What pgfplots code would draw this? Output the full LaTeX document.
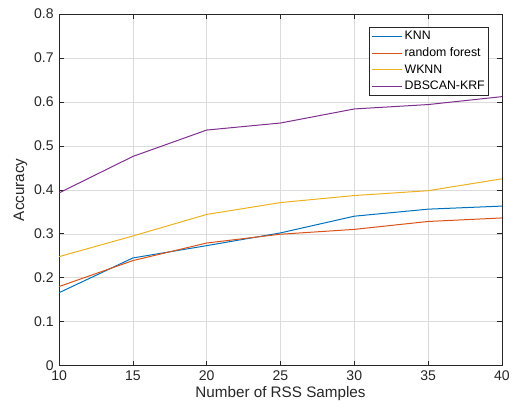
\documentclass[border=0pt]{standalone}
\usepackage{pgfplots}
\pgfplotsset{compat=1.18}
\usepackage{fontspec}
\setmainfont{Liberation Sans}
\definecolor{mA}{rgb}{0,0.447,0.741}
\definecolor{mB}{rgb}{0.85,0.325,0.098}
\definecolor{mC}{rgb}{0.929,0.694,0.125}
\definecolor{mD}{rgb}{0.494,0.184,0.556}
\definecolor{axc}{rgb}{0.15,0.15,0.15}
\begin{document}
\begin{tikzpicture}
\begin{axis}[
  scale only axis,
  width=442bp, height=351bp,
  xmin=10, xmax=40, ymin=0, ymax=0.8,
  xtick={10,15,...,40},
  ytick={0,0.1,...,0.8},
  /pgf/number format/assume math mode=true,
  yticklabel style={/pgf/number format/fixed, xshift=-2bp},
  xticklabel style={yshift=-2bp},
  tick label style={font=\fontsize{14bp}{16bp}\selectfont, text=axc},
  label style={font=\fontsize{15.2bp}{18bp}\selectfont, text=axc},
  xlabel={Number of RSS Samples},
  ylabel={Accuracy},
  xlabel style={yshift=1bp},
  grid=major,
  major grid style={color=black!14, line width=0.5bp},
  axis line style={axc, line width=0.6bp},
  tick style={axc, line width=0.6bp},
  tick align=inside,
  major tick length=5bp,
  legend style={at={(0.971,0.963)}, anchor=north east,
    font=\fontsize{12.3bp}{14.5bp}\selectfont, draw=axc, line width=0.6bp,
    inner xsep=2bp, inner ysep=2bp, row sep=2.5bp},
  legend cell align=left,
  legend image code/.code={\draw[#1, line width=1bp] (0bp,0bp) -- (30bp,0bp);},
  every axis plot/.append style={line width=1bp},
]
\addplot[mA] coordinates {(10,0.166) (15,0.245) (20,0.273) (25,0.302) (30,0.340) (35,0.356) (40,0.363)};
\addlegendentry{KNN}
\addplot[mB] coordinates {(10,0.180) (15,0.239) (20,0.279) (25,0.299) (30,0.310) (35,0.328) (40,0.336)};
\addlegendentry{random forest}
\addplot[mC] coordinates {(10,0.248) (15,0.295) (20,0.344) (25,0.371) (30,0.387) (35,0.398) (40,0.425)};
\addlegendentry{WKNN}
\addplot[mD] coordinates {(10,0.393) (15,0.476) (20,0.536) (25,0.552) (30,0.584) (35,0.594) (40,0.612)};
\addlegendentry{DBSCAN-KRF}
\end{axis}
\path (current axis.south west) ++(-59bp,-47bp) coordinate (bbA);
\path (current axis.north east) ++(11bp,14bp) coordinate (bbB);
\path (bbA) rectangle (bbB);
\end{tikzpicture}
\end{document}
